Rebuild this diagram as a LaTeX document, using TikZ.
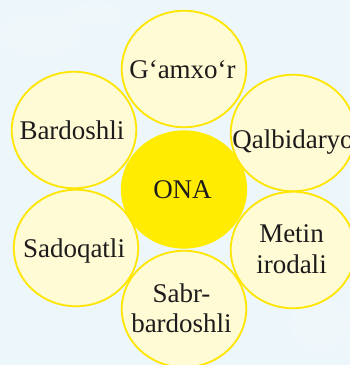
\documentclass[tikz,border=0pt]{standalone}
\usepackage{fontspec}
\setmainfont{Liberation Serif}
\usetikzlibrary{shapes.geometric}
\definecolor{bgblue}{RGB}{236,246,251}
\definecolor{petal}{RGB}{255,251,212}
\definecolor{rim}{RGB}{255,230,0}
\definecolor{core}{RGB}{255,236,0}
\definecolor{ink}{RGB}{30,27,28}
\tikzset{
  petalbox/.style={ellipse, draw=rim, line width=1.8pt, fill=petal, minimum width=124.5pt, minimum height=116.5pt, inner sep=0pt},
  corebox/.style={ellipse, draw=core, line width=1.8pt, fill=core, minimum width=124.5pt, minimum height=116.5pt, inner sep=0pt},
  word/.style={font=\fontsize{27}{31}\selectfont, text=ink, inner sep=0pt, anchor=base, align=center}
}
\begin{document}
\begin{tikzpicture}[x=1pt,y=1pt]
\fill[bgblue] (0,0) rectangle (350,365);
\useasboundingbox (0,0) rectangle (350,365);
\begin{scope}
\clip (0,0) rectangle (350,365);
\fill[white, opacity=0.22] (40,330) ellipse (40 and 22);
\fill[white, opacity=0.2] (95,350) ellipse (30 and 12);
\fill[white, opacity=0.2] (320,40) ellipse (30 and 25);
\node[corebox] (ona) at (184,175.5) {};
\node[petalbox] (top) at (184,296) {};
\node[petalbox] (ul) at (74,235) {};
\node[petalbox] (ur) at (293,232) {};
\node[petalbox] (ll) at (76,117) {};
\node[petalbox] (lr) at (293,115) {};
\node[petalbox] (bot) at (184,56) {};
\end{scope}
\node[word] (tONA) at (182.5,166) {ONA};
\node[word] (tTop) at (182.5,286) {G‘amxo‘r};
\node[word] (tUL) at (72,225) {Bardoshli};
\node[word] (tUR) at (293,216) {Qalbidaryo};
\node[word] (tLL) at (74,107) {Sadoqatli};
\node[word] (tLR) at (291.5,92) {Metin\\irodali};
\node[word] (tBot) at (181.5,32) {Sabr-\\bardoshli};
\end{tikzpicture}
\end{document}
